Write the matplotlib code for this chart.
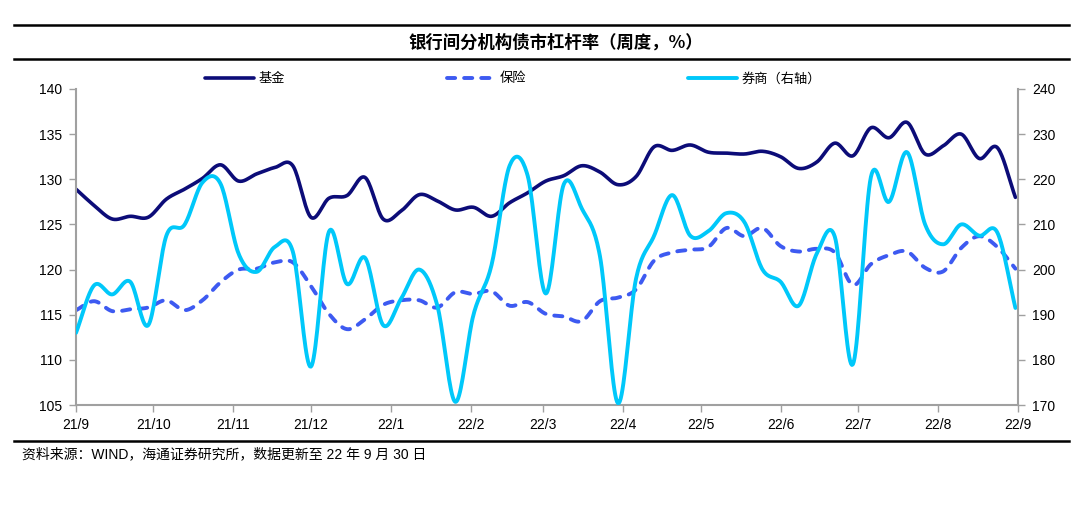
import numpy as np
import pandas as pd
import matplotlib
matplotlib.use('Agg')
import matplotlib.pyplot as plt
import matplotlib.dates as mdates
from matplotlib.lines import Line2D

plt.rcParams['font.family'] = ['Liberation Sans', 'Noto Sans CJK SC', 'DejaVu Sans']

# weekly observations, 2021-09 .. 2022-09
dates = pd.date_range('2021-09-01', periods=53, freq='7D')

fund = [128.9, 127.1, 125.6, 125.9, 125.8, 127.8, 128.9, 130.1, 131.6, 129.8,
        130.6, 131.3, 131.5, 125.8, 127.9, 128.2, 130.2, 125.6, 126.5, 128.3,
        127.6, 126.6, 126.9, 125.9, 127.4, 128.5, 129.8, 130.4, 131.5, 130.8,
        129.4, 130.3, 133.6, 133.2, 133.8, 133.0, 132.9, 132.8, 133.1, 132.5,
        131.2, 131.9, 134.0, 132.6, 135.7, 134.6, 136.3, 132.8, 133.7, 135.0,
        132.3, 133.5, 128.0]

insurance = [115.5, 116.5, 115.4, 115.6, 115.8, 116.6, 115.5, 116.6, 118.6, 120.0,
             120.1, 120.8, 120.8, 118.2, 115.1, 113.4, 114.5, 116.1, 116.6, 116.6,
             115.8, 117.5, 117.3, 117.6, 116.0, 116.4, 115.1, 114.8, 114.3, 116.5,
             116.9, 117.8, 121.0, 121.9, 122.2, 122.5, 124.6, 123.7, 124.6, 122.6,
             122.0, 122.3, 121.9, 118.3, 120.6, 121.6, 122.0, 120.2, 119.8, 122.4,
             123.7, 122.5, 120.1]

broker = [186.0, 196.5, 194.5, 197.3, 187.7, 207.5, 209.9, 219.3, 219.0, 203.5,
          199.5, 205.0, 204.0, 178.5, 208.4, 196.8, 202.6, 187.7, 193.6, 200.0,
          192.0, 170.7, 190.0, 201.0, 223.0, 220.8, 194.7, 218.9, 213.5, 203.0,
          170.4, 198.0, 207.5, 216.5, 207.5, 208.5, 212.5, 210.5, 200.0, 197.3,
          192.0, 203.5, 207.3, 179.0, 220.5, 215.0, 226.0, 210.0, 205.6, 210.0,
          207.5, 208.2, 191.5]

month_ticks = pd.date_range('2021-09-01', periods=13, freq='MS')
month_labels = ['21/9', '21/10', '21/11', '21/12', '22/1', '22/2', '22/3',
                '22/4', '22/5', '22/6', '22/7', '22/8', '22/9']

title = '银行间分机构债市杠杆率（周度，%）'
source = '资料来源：WIND，海通证券研究所，数据更新至 22 年 9 月 30 日'


def smooth(xv, yv, n=20):
    # catmull-rom curve through the points, like excel's smoothed line
    x = np.asarray(xv, float)
    y = np.asarray(yv, float)
    xp = np.concatenate([[2 * x[0] - x[1]], x, [2 * x[-1] - x[-2]]])
    yp = np.concatenate([[2 * y[0] - y[1]], y, [2 * y[-1] - y[-2]]])
    t = np.linspace(0, 1, n, endpoint=False)[:, None]

    def cr(p):
        a0, a1, a2, a3 = p[:-3], p[1:-2], p[2:-1], p[3:]
        return 0.5 * (2 * a1 + (-a0 + a2) * t
                      + (2 * a0 - 5 * a1 + 4 * a2 - a3) * t ** 2
                      + (-a0 + 3 * a1 - 3 * a2 + a3) * t ** 3)

    xs = np.append(cr(xp).T.ravel(), x[-1])
    ys = np.append(cr(yp).T.ravel(), y[-1])
    return xs, ys


xn = mdates.date2num(dates)
tn = mdates.date2num(month_ticks)

fig = plt.figure(figsize=(10.8, 5.3), dpi=100)
ax = fig.add_axes([0.0704, 0.2358, 0.8722, 0.5963])
ax2 = ax.twinx()

navy = '#0c0c78'
dash_blue = '#3d5af1'
cyan = '#00c8fa'

l1, = ax.plot(*smooth(xn, fund), color=navy, lw=2.6, solid_capstyle='round')
l2, = ax.plot(*smooth(xn, insurance), color=dash_blue, lw=2.8,
              dashes=(2.1, 2.3), dash_capstyle='round')
l3, = ax2.plot(*smooth(xn, broker), color=cyan, lw=2.8, solid_capstyle='round')

ax.set_xlim(tn[0], tn[-1])
ax.set_ylim(105, 140)
ax.set_yticks(np.arange(105, 141, 5))
ax2.set_ylim(170, 240)
ax2.set_yticks(np.arange(170, 241, 10))
ax.set_xticks(tn)
ax.set_xticklabels(month_labels)

grey = '#a0a0a0'
for a in (ax, ax2):
    a.spines['top'].set_visible(False)
    for s in ('left', 'right', 'bottom'):
        a.spines[s].set_color(grey)
        a.spines[s].set_linewidth(1.5)
    a.tick_params(colors=grey, labelcolor='black', labelsize=10, length=5, width=1)
ax.spines['right'].set_visible(False)
ax2.spines['left'].set_visible(False)
ax2.spines['bottom'].set_visible(False)
ax.tick_params(axis='y', pad=5)
ax.tick_params(axis='x', pad=4)
ax2.tick_params(axis='y', pad=5)

fig.legend([l1, l2, l3], ['基金', '保险', '券商（右轴）'], loc='center left',
           bbox_to_anchor=(0.184, 0.851), ncol=3, frameon=False,
           handlelength=3.7, handletextpad=0.3, columnspacing=12.3,
           borderpad=0, prop={'family': ['Noto Sans CJK SC'], 'size': 9.5})

# title band
fig.add_artist(Line2D([0.013, 0.99], [1 - 25 / 530] * 2, color='black', lw=1.8))
fig.add_artist(Line2D([0.013, 0.99], [1 - 59 / 530] * 2, color='black', lw=1.8))
fig.text(0.515, 1 - 43 / 530, title, ha='center', va='center', fontsize=12.5,
         fontweight='bold', family=['Noto Sans CJK SC', 'DejaVu Sans'])

# source line
fig.add_artist(Line2D([0.013, 0.99], [1 - 441 / 530] * 2, color='black', lw=1.8))
fig.text(0.02, 1 - 454 / 530, source, ha='left', va='center', fontsize=10,
         family=['Liberation Sans', 'Noto Sans CJK SC'])

fig.savefig('out.png', dpi=100)
